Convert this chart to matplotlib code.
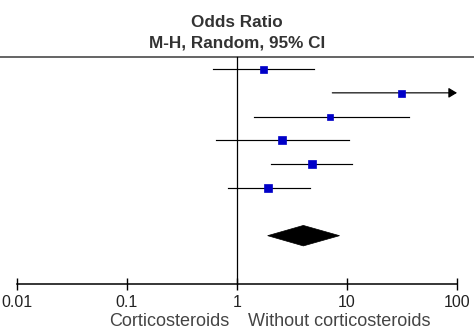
"""Forest plot: corticosteroids vs without, odds ratios (M-H, random, 95% CI)."""
import matplotlib
matplotlib.use("Agg")
import matplotlib.pyplot as plt
from matplotlib.patches import Polygon
from matplotlib.ticker import NullLocator
import numpy as np

# study rows, top -> bottom
OR_EST = [1.71, 31.1, 6.99, 2.55, 4.77, 1.90]
OR_LO = [0.61, 7.35, 1.43, 0.646, 2.03, 0.824]
OR_HI = [4.97, 130.0, 36.3, 10.5, 11.2, 4.58]
# pooled estimate: (estimate, lower, upper)
POOLED = (4.01, 1.90, 8.55)

TICKS = [0.01, 0.1, 1, 10, 100]
TICK_LABELS = ["0.01", "0.1", "1", "10", "100"]
HEADER = ["Odds Ratio", "M-H, Random, 95% CI"]
LEFT_LABEL = "Corticosteroids"
RIGHT_LABEL = "Without corticosteroids"

# styling
SQUARE_PX = [7, 7, 6.5, 7.5, 8.5, 8.5]
BLUE = "#0000c8"
XMAX = 100

plt.rcParams["font.family"] = ["Liberation Sans", "DejaVu Sans"]

DPI = 100
fig = plt.figure(figsize=(4.74, 3.29), dpi=DPI)
ax = fig.add_axes([0, 0, 1, 1])
ax.set_xscale("log")
ax.set_xlim(10 ** -2.1545, 10 ** 2.1545)
ax.set_ylim(10.92, -2.9)
ax.patch.set_visible(False)

rows = np.arange(len(OR_EST))
pooled_row = len(OR_EST) + 1
axis_row = 9.03
top_row = -0.5

# reference lines
ax.axhline(top_row, color="#3a3a3a", lw=1.1, zorder=1)
ax.plot([1, 1], [top_row, axis_row], color="black", lw=0.9, zorder=1)

# study CIs and point estimates
for y, est, lo, hi, px in zip(rows, OR_EST, OR_LO, OR_HI, SQUARE_PX):
    if hi > XMAX:
        ax.annotate("", xy=(XMAX, y), xytext=(lo, y),
                    arrowprops=dict(arrowstyle="-|>,head_length=0.5,head_width=0.3",
                                    color="black", lw=0.85, shrinkA=0, shrinkB=0))
    else:
        ax.plot([lo, hi], [y, y], color="black", lw=0.85, zorder=2)
    ax.plot(est, y, marker="s", ms=px * 0.72, color=BLUE, mec=BLUE, mew=0.5,
            zorder=3)

# pooled diamond
est, lo, hi = POOLED
h = 0.43
ax.add_patch(Polygon([(lo, pooled_row), (est, pooled_row - h),
                      (hi, pooled_row), (est, pooled_row + h)],
                     closed=True, facecolor="black", edgecolor="black", lw=0.5))

# bottom scale
for side in ("top", "left", "right"):
    ax.spines[side].set_visible(False)
ax.spines["bottom"].set_position(("data", axis_row))
ax.spines["bottom"].set_bounds(TICKS[0], TICKS[-1])
ax.spines["bottom"].set_linewidth(1.1)
ax.set_xticks(TICKS, TICK_LABELS)
ax.xaxis.set_minor_locator(NullLocator())
ax.tick_params(axis="x", direction="inout", length=8.6, width=1.0,
               labelsize=11.5, pad=3.3, labelcolor="#222222")
ax.set_yticks([])

# header
ax.text(1, -1.78, HEADER[0], ha="center", va="baseline", fontsize=12.3,
        fontweight="bold", color="#333333")
ax.text(1, -0.9, HEADER[1], ha="center", va="baseline", fontsize=12.3,
        fontweight="bold", color="#333333")

# direction labels under the scale
ax.annotate(LEFT_LABEL, xy=(1, axis_row), xytext=(-8, -42),
            textcoords="offset pixels", ha="right", va="baseline",
            fontsize=13, color="#444444")
ax.annotate(RIGHT_LABEL, xy=(1, axis_row), xytext=(11, -42),
            textcoords="offset pixels", ha="left", va="baseline",
            fontsize=13, color="#444444")

fig.savefig("out.png", dpi=DPI)
